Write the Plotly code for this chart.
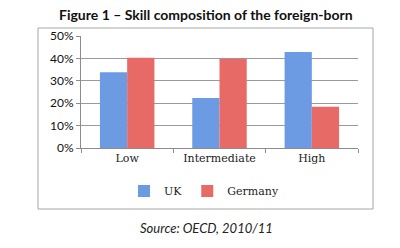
import plotly.graph_objects as go

categories = ["Low", "Intermediate", "High"]
uk = [33.8, 22.3, 42.9]
germany = [40.3, 39.8, 18.4]
y_ticks = [0, 10, 20, 30, 40, 50]
y_ticktext = ["0%", "10%", "20%", "30%", "40%", "50%"]

xpos = list(range(len(categories)))

fig = go.Figure()
fig.add_trace(go.Bar(x=xpos, y=uk, name="UK", marker=dict(color="#6c9be4", line=dict(width=0))))
fig.add_trace(go.Bar(x=xpos, y=germany, name="Germany", marker=dict(color="#e86a67", line=dict(width=0))))

W, H = 400, 248
L, R, T, B = 81, 42, 36, 100
pw = W - L - R
ph = H - T - B

def px_x(p):
    return (p - L) / pw

def px_y(p):
    return (H - B - p) / ph

fig.update_layout(
    width=W, height=H,
    margin=dict(l=L, r=R, t=T, b=B),
    paper_bgcolor="white", plot_bgcolor="white",
    barmode="group", bargap=0.41, bargroupgap=0,
    showlegend=True,
    legend=dict(orientation="h", x=px_x(204), xanchor="center", y=px_y(191), yanchor="middle",
                font=dict(family="DejaVu Serif", size=11, color="#222"),
                itemwidth=30, tracegroupgap=0, bgcolor="rgba(0,0,0,0)"),
    xaxis=dict(range=[-0.5, 2.5], tickvals=xpos, ticktext=categories, ticks="", showgrid=False,
               showline=True, linecolor="#8c8c8c", linewidth=1, zeroline=False,
               tickfont=dict(family="DejaVu Serif", size=11, color="#222"),
               minor=dict(tick0=0.5, dtick=1, ticks="outside", ticklen=4, tickcolor="#8c8c8c", showgrid=False)),
    yaxis=dict(range=[0, 50], tickvals=y_ticks, ticktext=y_ticktext, ticks="outside", ticklen=4,
               tickcolor="#8c8c8c", showline=True, linecolor="#8c8c8c", linewidth=1,
               showgrid=True, gridcolor="#9a9a9a", gridwidth=1, zeroline=False,
               tickfont=dict(family="Lato", size=12, color="#111")),
    shapes=[dict(type="rect", xref="paper", yref="paper",
                 x0=px_x(38), x1=px_x(373), y0=px_y(209), y1=px_y(28),
                 line=dict(color="#a6a6a6", width=1), fillcolor="rgba(0,0,0,0)", layer="below")],
    annotations=[
        dict(text="<b>Figure 1 – Skill composition of the foreign-born</b>", xref="paper", yref="paper",
             x=px_x(206), y=px_y(14), xanchor="center", yanchor="middle", showarrow=False,
             font=dict(family="Lato", size=14, color="#111")),
        dict(text="<i>Source: OECD, 2010/11</i>", xref="paper", yref="paper",
             x=px_x(206), y=px_y(228), xanchor="center", yanchor="middle", showarrow=False,
             font=dict(family="Lato", size=13, color="#222")),
    ],
)

fig.write_html("out.html")
